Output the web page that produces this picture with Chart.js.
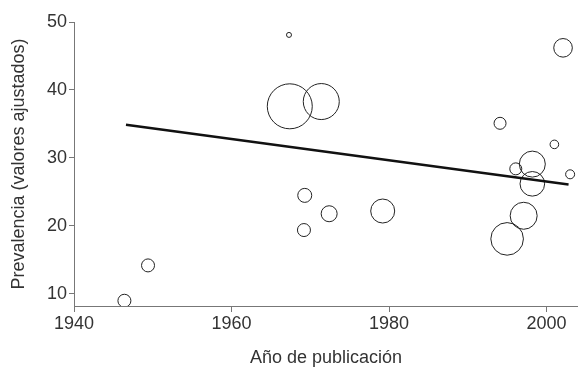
<!DOCTYPE html>
<html>
<head>
<meta charset="utf-8">
<script src="https://cdn.jsdelivr.net/npm/chart.js@4.4.1/dist/chart.umd.min.js"></script>
<style>
  body { margin: 0; background: #fff; }
  #wrap { width: 578px; height: 368px; }
</style>
</head>
<body>
<div id="wrap"><canvas id="myChart" width="578" height="368"></canvas></div>
<script>
// Studies: year of publication, adjusted prevalence, bubble size (study weight)
const years = [1946.4, 1949.4, 1967.3, 1967.4, 1971.4, 1969.3, 1969.2, 1972.4, 1979.2,
               1994.1, 2001.0, 2002.1, 1996.1, 1998.2, 1998.2, 2003.0, 1997.1, 1995.0];
const prevalence = [9.0, 14.2, 48.1, 37.6, 38.3, 24.5, 19.4, 21.8, 22.2,
                    35.1, 32.0, 46.2, 28.4, 29.1, 26.2, 27.6, 21.5, 18.1];
const weights = [6.5, 6.5, 2.5, 22.5, 18, 7, 6.5, 8, 12,
                 6, 4.3, 9.3, 6, 13, 12.3, 4.5, 13.5, 16.3];

// Meta-regression line
const fitYears = [1946.6, 2002.8];
const fitValues = [34.9, 26.1];

const xTicks = [1940, 1960, 1980, 2000];
const yTicks = [10, 20, 30, 40, 50];

const axisColor = '#777';
const textColor = '#333';
const font = { family: "'Liberation Sans', Arial, sans-serif", size: 18 };

const ctx = document.getElementById('myChart').getContext('2d');

const myChart = new Chart(ctx, {
    type: 'bubble',
    data: {
        datasets: [
            {
                type: 'line',
                data: fitYears.map((x, i) => ({ x: x, y: fitValues[i] })),
                borderColor: '#111',
                borderWidth: 2.5,
                pointRadius: 0,
                fill: false,
                order: 0
            },
            {
                data: years.map((x, i) => ({ x: x, y: prevalence[i], r: weights[i] })),
                backgroundColor: 'rgba(0,0,0,0)',
                borderColor: '#222',
                borderWidth: 1,
                order: 1
            }
        ]
    },
    options: {
        responsive: false,
        animation: false,
        layout: { autoPadding: false, padding: { top: 22, right: 0, bottom: 0, left: 0 } },
        plugins: { legend: { display: false }, tooltip: { enabled: false } },
        scales: {
            x: {
                type: 'linear',
                min: 1940,
                max: 2004,
                afterBuildTicks: (scale) => { scale.ticks = xTicks.map(v => ({ value: v })); },
                afterFit: (scale) => { scale.height = 62; },
                grid: { drawOnChartArea: false, color: axisColor, tickLength: 6 },
                border: { color: axisColor, width: 1 },
                ticks: { color: textColor, font: font, padding: 1, maxRotation: 0, callback: v => String(v) },
                title: {
                    display: true,
                    text: 'Año de publicación',
                    color: textColor,
                    font: font,
                    padding: { top: 0, bottom: -1 }
                }
            },
            y: {
                type: 'linear',
                min: 8.23,
                max: 50,
                afterBuildTicks: (scale) => { scale.ticks = yTicks.map(v => ({ value: v })); },
                afterFit: (scale) => { scale.width = 74; },
                grid: { drawOnChartArea: false, color: axisColor, tickLength: 5 },
                border: { color: axisColor, width: 1 },
                ticks: { color: textColor, font: font, padding: 2, callback: v => String(v) },
                title: {
                    display: true,
                    text: 'Prevalencia (valores ajustados)',
                    color: textColor,
                    font: font,
                    padding: { top: 8, bottom: 0 }
                }
            }
        }
    }
});
</script>
</body>
</html>
